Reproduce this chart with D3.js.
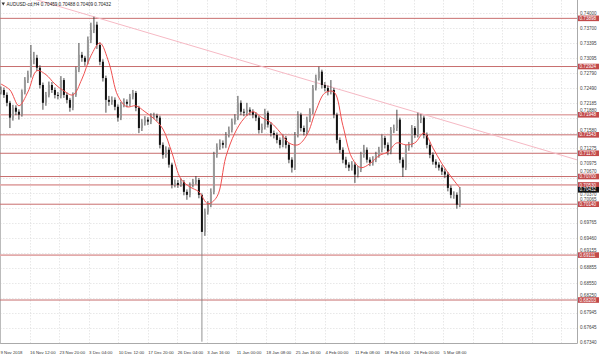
<!DOCTYPE html>
<html><head><meta charset="utf-8">
<script src="https://cdn.jsdelivr.net/npm/d3@7"></script>
<style>body{margin:0;background:#fff}svg{display:block}text{font-family:"Liberation Sans",Arial,sans-serif}</style>
</head><body><svg id="c" width="600" height="358"></svg>
<script>
// ---- data ----
const symbolTitle = "AUDUSD-cd,H4";
const lastBar = [0.70459, 0.70488, 0.70409, 0.70432];
const timeLabels = ["9 Nov 2018","16 Nov 12:00","23 Nov 20:00","3 Dec 04:00","10 Dec 12:00","17 Dec 20:00","26 Dec 04:00","3 Jan 16:00","11 Jan 00:00","18 Jan 08:00","25 Jan 16:00","4 Feb 00:00","11 Feb 08:00","18 Feb 16:00","26 Feb 00:00","5 Mar 08:00"];
const priceTicks = [0.74000,0.73700,0.73395,0.73095,0.72790,0.72490,0.72185,0.71880,0.71580,0.71275,0.70975,0.70670,0.70370,0.70065,0.69765,0.69460,0.69155,0.68855,0.68550,0.68250,0.67945,0.67645,0.67340];
const levels = [0.73898,0.72924,0.71948,0.71543,0.71170,0.70700,0.70530,0.70140,0.69111,0.68203];
const levelsLight = [0.71948,0.70530,0.69111];
const currentPrice = 0.70432;
const opens = [0.7240,0.7245,0.7235,0.7219,0.7189,0.7209,0.7201,0.7195,0.7241,0.7265,
0.7276,0.7306,0.7310,0.7290,0.7255,0.7219,0.7235,0.7255,0.7245,0.7235,
0.7233,0.7265,0.7235,0.7225,0.7209,0.7235,0.7286,0.7316,0.7310,0.7302,
0.7346,0.7366,0.7377,0.7336,0.7302,0.7269,0.7225,0.7221,0.7225,0.7211,
0.7189,0.7215,0.7221,0.7217,0.7231,0.7239,0.7209,0.7168,0.7179,0.7185,
0.7181,0.7191,0.7193,0.7189,0.7134,0.7114,0.7124,0.7094,0.7053,0.7057,
0.7053,0.7059,0.7039,0.7033,0.7053,0.7059,0.7063,0.7033,0.6958,0.6999,
0.7013,0.7039,0.7114,0.7130,0.7138,0.7134,0.7154,0.7164,0.7181,0.7189,
0.7219,0.7201,0.7199,0.7205,0.7201,0.7195,0.7189,0.7164,0.7170,0.7199,
0.7175,0.7158,0.7154,0.7144,0.7134,0.7148,0.7134,0.7104,0.7088,0.7154,
0.7195,0.7168,0.7160,0.7185,0.7201,0.7249,0.7269,0.7282,0.7255,0.7249,
0.7241,0.7245,0.7195,0.7144,0.7124,0.7104,0.7094,0.7088,0.7094,0.7074,
0.7084,0.7114,0.7124,0.7104,0.7098,0.7104,0.7114,0.7124,0.7148,0.7134,
0.7120,0.7164,0.7168,0.7185,0.7104,0.7088,0.7128,0.7134,0.7168,0.7154,
0.7185,0.7189,0.7154,0.7134,0.7114,0.7100,0.7094,0.7088,0.7080,0.7074,
0.7047,0.7033,0.7033,0.7013];
const highs = [0.7252,0.7250,0.7240,0.7223,0.7215,0.7214,0.7206,0.7246,0.7271,0.7284,
0.7336,0.7322,0.7316,0.7295,0.7260,0.7241,0.7262,0.7261,0.7250,0.7241,
0.7273,0.7269,0.7240,0.7229,0.7240,0.7292,0.7340,0.7322,0.7314,0.7353,
0.7381,0.7393,0.7383,0.7341,0.7307,0.7274,0.7233,0.7232,0.7230,0.7216,
0.7221,0.7228,0.7226,0.7237,0.7245,0.7243,0.7213,0.7186,0.7192,0.7190,
0.7198,0.7199,0.7197,0.7193,0.7139,0.7131,0.7129,0.7098,0.7064,0.7063,
0.7066,0.7063,0.7044,0.7058,0.7065,0.7071,0.7067,0.7037,0.7005,0.7020,
0.7046,0.7120,0.7137,0.7145,0.7143,0.7160,0.7171,0.7187,0.7196,0.7233,
0.7224,0.7207,0.7219,0.7210,0.7206,0.7200,0.7193,0.7177,0.7207,0.7203,
0.7180,0.7163,0.7159,0.7149,0.7155,0.7152,0.7138,0.7109,0.7160,0.7202,
0.7199,0.7173,0.7191,0.7208,0.7255,0.7276,0.7292,0.7286,0.7261,0.7254,
0.7265,0.7249,0.7199,0.7149,0.7129,0.7110,0.7099,0.7101,0.7099,0.7091,
0.7120,0.7134,0.7129,0.7109,0.7111,0.7120,0.7130,0.7155,0.7152,0.7139,
0.7170,0.7175,0.7205,0.7189,0.7109,0.7134,0.7140,0.7174,0.7172,0.7199,
0.7196,0.7193,0.7159,0.7139,0.7119,0.7105,0.7099,0.7093,0.7086,0.7079,
0.7052,0.7040,0.7038,0.70488];
const lows = [0.7236,0.7229,0.7212,0.7168,0.7183,0.7194,0.7185,0.7191,0.7236,0.7259,
0.7270,0.7297,0.7283,0.7248,0.7205,0.7213,0.7230,0.7239,0.7228,0.7226,
0.7228,0.7229,0.7218,0.7201,0.7204,0.7231,0.7281,0.7302,0.7294,0.7297,
0.7340,0.7360,0.7328,0.7295,0.7262,0.7199,0.7213,0.7215,0.7204,0.7181,
0.7184,0.7210,0.7210,0.7212,0.7226,0.7202,0.7158,0.7162,0.7173,0.7174,
0.7176,0.7186,0.7182,0.7127,0.7106,0.7108,0.7088,0.7046,0.7048,0.7047,
0.7049,0.7032,0.7023,0.7028,0.7048,0.7054,0.7026,0.6736,0.6950,0.6993,
0.7008,0.7034,0.7108,0.7124,0.7127,0.7128,0.7149,0.7159,0.7175,0.7184,
0.7194,0.7192,0.7193,0.7194,0.7188,0.7182,0.7157,0.7158,0.7165,0.7169,
0.7151,0.7147,0.7137,0.7127,0.7129,0.7127,0.7097,0.7078,0.7083,0.7149,
0.7161,0.7153,0.7155,0.7180,0.7196,0.7244,0.7264,0.7248,0.7242,0.7234,
0.7236,0.7188,0.7137,0.7117,0.7097,0.7087,0.7081,0.7082,0.7057,0.7068,
0.7079,0.7108,0.7098,0.7091,0.7092,0.7099,0.7108,0.7119,0.7127,0.7113,
0.7115,0.7158,0.7162,0.7097,0.7069,0.7083,0.7122,0.7129,0.7148,0.7149,
0.7178,0.7147,0.7127,0.7107,0.7094,0.7087,0.7082,0.7073,0.7067,0.7040,
0.7026,0.7025,0.7005,0.7008];
const closes = [0.7245,0.7235,0.7219,0.7189,0.7209,0.7201,0.7195,0.7241,0.7265,0.7276,
0.7306,0.7310,0.7290,0.7255,0.7219,0.7235,0.7255,0.7245,0.7235,0.7233,
0.7265,0.7235,0.7225,0.7209,0.7235,0.7286,0.7316,0.7310,0.7302,0.7346,
0.7366,0.7377,0.7336,0.7302,0.7269,0.7225,0.7221,0.7225,0.7211,0.7189,
0.7215,0.7221,0.7217,0.7231,0.7239,0.7209,0.7168,0.7179,0.7185,0.7181,
0.7191,0.7193,0.7189,0.7134,0.7114,0.7124,0.7094,0.7053,0.7057,0.7053,
0.7059,0.7039,0.7033,0.7053,0.7059,0.7063,0.7033,0.6958,0.6999,0.7013,
0.7039,0.7114,0.7130,0.7138,0.7134,0.7154,0.7164,0.7181,0.7189,0.7219,
0.7201,0.7199,0.7205,0.7201,0.7195,0.7189,0.7164,0.7170,0.7199,0.7175,
0.7158,0.7154,0.7144,0.7134,0.7148,0.7134,0.7104,0.7088,0.7154,0.7195,
0.7168,0.7160,0.7185,0.7201,0.7249,0.7269,0.7282,0.7255,0.7249,0.7241,
0.7245,0.7195,0.7144,0.7124,0.7104,0.7094,0.7088,0.7094,0.7074,0.7084,
0.7114,0.7124,0.7104,0.7098,0.7104,0.7114,0.7124,0.7148,0.7134,0.7120,
0.7164,0.7168,0.7185,0.7104,0.7088,0.7128,0.7134,0.7168,0.7154,0.7185,
0.7189,0.7154,0.7134,0.7114,0.7100,0.7094,0.7088,0.7080,0.7074,0.7047,
0.7033,0.7033,0.7013,0.70432];
// moving average, read every 3rd candle
const maValues = [0.7257,0.7245,0.7213,0.7241,0.7284,0.7276,0.7257,0.7243,0.7235,0.7267,
0.7314,0.7340,0.7300,0.7233,0.7211,0.7213,0.7201,0.7187,0.7166,0.7118,
0.7065,0.7049,0.7039,0.7015,0.7029,0.7110,0.7158,0.7187,0.7201,0.7189,
0.7179,0.7160,0.7138,0.7134,0.7154,0.7203,0.7239,0.7241,0.7173,0.7108,
0.7088,0.7096,0.7112,0.7120,0.7138,0.7134,0.7138,0.7158,0.7128,0.7096,
0.7070,0.7047];
const maStep = 3;
// trendline anchors: [candle index, price]
const trendAnchors = [[31, 0.7393], [139, 0.7199]];

// ---- layout ----
const plotL = 0, plotR = 577, plotT = 0, plotB = 343;
const svg = d3.select("#c");
const y = d3.scaleLinear().domain([0.67340, 0.74000]).range([342.7, 13.3]);
const x = d3.scaleLinear().domain([0, 500]).range([0, 461.5]);
const cx = i => x(3.25 * i + 1);
const labelBars = 32;

svg.append("defs").append("clipPath").attr("id","clip")
  .append("rect").attr("x",plotL).attr("y",plotT).attr("width",plotR-plotL).attr("height",plotB-plotT);

// grid
const grid = svg.append("g").attr("stroke","#d8d8d8").attr("stroke-width",0.6).attr("stroke-dasharray","1.5,1.5");
grid.selectAll("line.h").data(priceTicks).join("line").attr("class","h")
  .attr("x1",plotL).attr("x2",plotR).attr("y1",d=>Math.round(y(d))+0.5).attr("y2",d=>Math.round(y(d))+0.5);
const vgrid = d3.range(0, 20).map(k => k*labelBars).filter(b => x(b) < plotR);
grid.selectAll("line.v").data(vgrid).join("line").attr("class","v")
  .attr("x1",d=>Math.round(x(d))+0.5).attr("x2",d=>Math.round(x(d))+0.5).attr("y1",plotT).attr("y2",plotB);

// frame
svg.append("line").attr("x1",plotR+0.5).attr("x2",plotR+0.5).attr("y1",0).attr("y2",plotB+0.5).attr("stroke","#aaa").attr("stroke-width",1);
svg.append("line").attr("x1",0).attr("x2",plotR+0.5).attr("y1",plotB+0.5).attr("y2",plotB+0.5).attr("stroke","#aaa").attr("stroke-width",1);
svg.append("line").attr("x1",0.5).attr("x2",0.5).attr("y1",0).attr("y2",plotB+0.5).attr("stroke","#bbb").attr("stroke-width",1);

const plot = svg.append("g").attr("clip-path","url(#clip)");

// level lines
plot.selectAll("line.lvl").data(levels).join("line").attr("class","lvl")
  .attr("x1",plotL).attr("x2",plotR)
  .attr("y1",d=>y(d)).attr("y2",d=>y(d))
  .attr("stroke",d=>levelsLight.includes(d)?"#e2aaaa":"#c86e6e")
  .attr("stroke-width",d=>levelsLight.includes(d)?1.6:1);

// trendline
const [a0,a1] = trendAnchors;
const slope = (a1[1]-a0[1])/(a1[0]-a0[0]);
const tStart = -20, tEnd = 200;
plot.append("line")
  .attr("x1",cx(tStart)).attr("y1",y(a0[1]+slope*(tStart-a0[0])))
  .attr("x2",cx(tEnd)).attr("y2",y(a0[1]+slope*(tEnd-a0[0])))
  .attr("stroke","#f6b9c4").attr("stroke-width",1);

// candles
const bars = closes.map((c,i)=>({i,o:opens[i],h:highs[i],l:lows[i],c}));
const cg = plot.append("g");
cg.selectAll("line.w").data(bars).join("line").attr("class","w")
  .attr("x1",d=>cx(d.i)).attr("x2",d=>cx(d.i))
  .attr("y1",d=>y(d.h)).attr("y2",d=>y(d.l))
  .attr("stroke",d=>d.i===67?"#777":"#333").attr("stroke-width",d=>d.i===67?0.8:0.9);
cg.selectAll("rect.b").data(bars).join("rect").attr("class","b")
  .attr("x",d=>cx(d.i)-1).attr("width",2)
  .attr("y",d=>y(Math.max(d.o,d.c)))
  .attr("height",d=>Math.max(0.8, Math.abs(y(d.o)-y(d.c))))
  .attr("fill",d=>d.c>=d.o?"#9a9a9a":"#111");

// moving average
const maLine = d3.line().x((d,k)=>cx(k*maStep)).y(d=>y(d)).curve(d3.curveCatmullRom);
plot.append("path").attr("d",maLine(maValues)).attr("fill","none").attr("stroke","#f05050").attr("stroke-width",1);

// price axis labels: nudge labels that would sit under a level box
const boxH = 5.6, fs = 4.6, capH = 3.4;
const boxes = levels.concat([currentPrice]).map(v => [y(v)-boxH/2, y(v)+boxH/2]);
const hits = (top, bot) => boxes.some(([t,b]) => bot > t && top < b);
const tickPos = priceTicks.map(v => {
  let base = y(v) + capH/2;
  if (!hits(base-capH, base)) return {v, base};
  const near = boxes.filter(([t,b]) => base > t && base-capH < b)[0];
  const up = near[0] - 0.3, down = near[1] + 0.3 + capH;
  if (!hits(up-capH, up)) return {v, base: up};
  if (!hits(down-capH, down)) return {v, base: down};
  return null;
}).filter(Boolean);
svg.append("g").selectAll("text").data(tickPos).join("text")
  .attr("x",plotR+3).attr("y",d=>d.base)
  .attr("font-size",fs).attr("fill","#444").text(d=>d.v.toFixed(5));

// level labels
const lg = svg.append("g");
lg.selectAll("rect").data(levels).join("rect")
  .attr("x",plotR+1).attr("width",21).attr("y",d=>y(d)-boxH/2).attr("height",boxH)
  .attr("fill","#c24a4a");
lg.selectAll("text").data(levels).join("text")
  .attr("x",plotR+2.5).attr("y",d=>y(d)+1.6).attr("font-size",fs).attr("fill","#fff").text(d=>d.toFixed(5));
lg.append("rect").attr("x",plotR+1).attr("width",21).attr("y",y(currentPrice)-boxH/2).attr("height",boxH).attr("fill","#111");
lg.append("text").attr("x",plotR+2.5).attr("y",y(currentPrice)+1.6).attr("font-size",fs).attr("fill","#fff").text(currentPrice.toFixed(5));

// time axis labels
svg.append("g").selectAll("text").data(timeLabels).join("text")
  .attr("x",(d,k)=>x(k*labelBars)+0.5).attr("y",354)
  .attr("font-size",4.3).attr("fill","#333").text(d=>d);

// header
svg.append("path").attr("d","M1.5,2.5 L5,2.5 L3.25,5.5 Z").attr("fill","#333");
svg.append("text").attr("x",6.5).attr("y",6).attr("font-size",4.6).attr("fill","#222")
  .text(symbolTitle + "  " + lastBar.map(v=>v.toFixed(5)).join(" "));
</script></body></html>
